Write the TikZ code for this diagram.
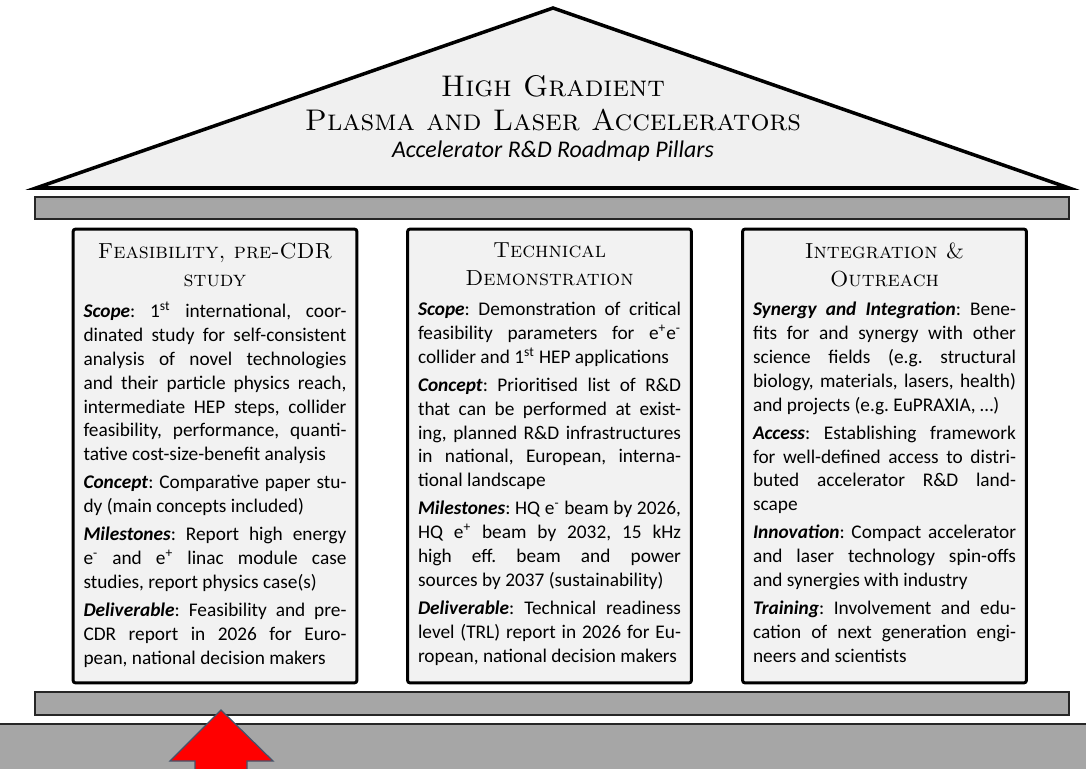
\documentclass[tikz,border=0pt]{standalone}
\usepackage{fontspec}
\newfontfamily\bodyfont{Carlito}
\usetikzlibrary{positioning}
\definecolor{arrow border}{HTML}{44546A}
\newlength{\pillarw}
\setlength{\pillarw}{5.26cm}
\tikzset{
    % Colors
    roof color/.style={fill=black!6},
    beam color/.style={fill=black!35},
    pillar color/.style={fill=black!5},
    %
    % Building parts
    roof/.style={roof color,draw=black,line width=2pt,line join=miter},
    beam/.style={beam color,draw=black!85,line width=0.8pt},
    pillar/.style={pillar color,draw=black,line width=1.7pt,rounded corners=1.5pt,
        minimum width=5.68cm,minimum height=9.08cm,inner sep=0pt},
    %
    % Text
    title text/.style={font=\fontsize{17}{19.3}\selectfont\scshape,align=center,inner sep=0pt},
    subtitle text/.style={font=\bodyfont\fontsize{13.6}{16}\selectfont\itshape,inner sep=0pt},
    pillar head/.style={font=\fontsize{12.4}{15.9}\selectfont\scshape,align=center,inner sep=0pt},
    pillar text/.style={text width=\pillarw,align=left,inner sep=0pt,
        font={\bodyfont\fontsize{11}{13.6}\selectfont\frenchspacing}},
    %
    % Arrow
    push arrow/.style={fill=red,draw=arrow border,line width=0.7pt,line join=miter}
}
\newcommand{\lbl}[1]{\textbf{\textit{#1}}}
% font word spaces instead of the fixed ones of align=left
\newcommand{\fontspaces}{\spaceskip=0pt\xspaceskip=0pt\relax}
% justified line of a pillar text
\newcommand{\jl}[1]{\leavevmode\hbox to \pillarw{#1}\\}
\newcommand{\parbreak}{\\[2.4pt]}

\begin{document}
\begin{tikzpicture}[x=0.02cm,y=-0.02cm]
    \useasboundingbox (0,0) rectangle (1086,768);
    % roof and beams
    \draw[roof] (36,188) -- (553,8) -- (1069,188) -- cycle;
    \node[title text] (title) at (553,103.5) {High Gradient\\Plasma and Laser Accelerators};
    \node[subtitle text] (subtitle) at (553,151) {Accelerator R\&D Roadmap Pillars};
    \draw[beam] (35,197) rectangle (1069,219);
    \draw[beam] (35,692) rectangle (1069,715);
    \draw[beam] (-2,724) rectangle (1088,772);
    % pillars
    \foreach \name/\xpos in {feas/215,tech/549.5,integ/884.5}
        \node[pillar] (\name) at (\xpos,456) {};
    \node[pillar head,below=0.3cm of feas.north] (feashead) {Feasibility, pre-CDR\\study};
    \node[pillar head,below=0.3cm of tech.north] (techhead) {Technical\\Demonstration};
    \node[pillar head,below=0.3cm of integ.north] (integhead) {Integration \&\\Outreach};
    \node[pillar text,below=1.48cm of feas.north] (feastext) {\fontspaces
        \jl{\lbl{Scope}: 1\textsuperscript{st} international, coor-}
        \jl{dinated study for self-consistent}
        \jl{analysis of novel technologies}
        \jl{and their particle physics reach,}
        \jl{intermediate HEP steps, collider}
        \jl{feasibility, performance, quanti-}
        tative cost-size-benefit analysis\parbreak
        \jl{\lbl{Concept}: Comparative paper stu-}
        dy (main concepts included)\parbreak
        \jl{\lbl{Milestones}: Report high energy}
        \jl{e\textsuperscript{-} and e\textsuperscript{+} linac module case}
        studies, report physics case(s)\parbreak
        \jl{\lbl{Deliverable}: Feasibility and pre-}
        \jl{CDR report in 2026 for Euro-}
        pean, national decision makers};
    \node[pillar text,below=1.48cm of tech.north] (techtext) {\fontspaces
        \jl{\lbl{Scope}: Demonstration of critical}
        \jl{feasibility parameters for e\textsuperscript{+}e\textsuperscript{-}}
        collider and 1\textsuperscript{st} HEP applications\parbreak
        \jl{\lbl{Concept}: Prioritised list of R\&D}
        \jl{that can be performed at exist-}
        \jl{ing, planned R\&D infrastructures}
        \jl{in national, European, interna-}
        tional landscape\parbreak
        \jl{\lbl{Milestones}: HQ e\textsuperscript{-} beam by 2026,}
        \jl{HQ e\textsuperscript{+} beam by 2032, 15 kHz}
        \jl{high eff. beam and power}
        sources by 2037 (sustainability)\parbreak
        \jl{\lbl{Deliverable}: Technical readiness}
        \jl{level (TRL) report in 2026 for Eu-}
        ropean, national decision makers};
    \node[pillar text,below=1.48cm of integ.north] (integtext) {\fontspaces
        \jl{\lbl{Synergy and Integration}: Bene-}
        \jl{fits for and synergy with other}
        \jl{science fields (e.g. structural}
        \jl{biology, materials, lasers, health)}
        and projects (e.g. EuPRAXIA, …)\parbreak
        \jl{\lbl{Access}: Establishing framework}
        \jl{for well-defined access to distri-}
        \jl{buted accelerator R\&D land-}
        scape\parbreak
        \jl{\lbl{Innovation}: Compact accelerator}
        \jl{and laser technology spin-offs}
        and synergies with industry\parbreak
        \jl{\lbl{Training}: Involvement and edu-}
        \jl{cation of next generation engi-}
        neers and scientists};
    % arrow into the foundation
    \draw[push arrow] (221,710) -- (273,761) -- (247,761) -- (247,772)
        -- (195,772) -- (195,761) -- (170,761) -- cycle;
\end{tikzpicture}
\end{document}
